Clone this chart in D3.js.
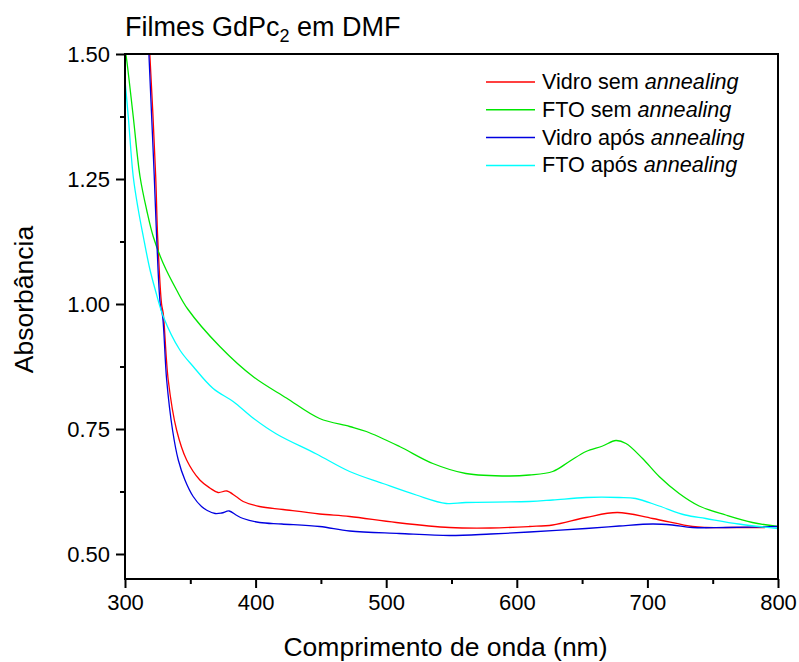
<!DOCTYPE html>
<html>
<head>
<meta charset="utf-8">
<script src="https://cdn.jsdelivr.net/npm/d3@7"></script>
<style>
  html, body { margin: 0; padding: 0; background: #fff; }
  svg { display: block; font-family: "Liberation Sans", Arial, sans-serif; }
</style>
</head>
<body>
<svg id="chart" width="799" height="662"></svg>
<script>
// Absorbance spectra of GdPc2 films deposited from DMF
const vidroSemWl  = [316, 319, 323.5, 325, 328, 329.3, 333.1, 339.5, 347.2, 357.3, 365, 371.3, 378, 385, 390.5, 403, 421, 449, 472, 507.7, 548.5, 580, 609.6, 627.5, 653, 677, 704, 734.5, 744.7, 765, 790];
const vidroSemAbs = [1.62, 1.5, 1.255, 1.135, 1.0, 0.981, 0.848, 0.748, 0.688, 0.648, 0.632, 0.623, 0.626, 0.615, 0.605, 0.595, 0.589, 0.58, 0.575, 0.563, 0.553, 0.552, 0.555, 0.558, 0.573, 0.583, 0.571, 0.555, 0.553, 0.553, 0.553];

const ftoSemWl  = [300, 301.3, 306.3, 311.5, 316.6, 321.6, 329.3, 339.5, 348, 372.6, 398, 423.6, 449, 472, 484.8, 510.2, 535.7, 561, 594.3, 609.6, 627.5, 640.2, 653, 665.7, 675.9, 683.6, 696.3, 709, 724.3, 739.6, 760, 780.4, 800];
const ftoSemAbs = [1.51, 1.488, 1.375, 1.255, 1.188, 1.135, 1.081, 1.028, 0.99, 0.915, 0.855, 0.812, 0.771, 0.755, 0.745, 0.715, 0.681, 0.661, 0.656, 0.658, 0.665, 0.685, 0.705, 0.716, 0.727, 0.721, 0.691, 0.655, 0.621, 0.596, 0.578, 0.563, 0.555];

const vidroAposWl  = [316, 318.3, 320.4, 322.4, 324.2, 327, 328.8, 331.9, 336.4, 340.8, 345.9, 352.2, 358.6, 363, 369, 374, 379.8, 385, 390.5, 403, 420, 449, 472, 510, 548.5, 580, 609.6, 653, 678.4, 704, 719, 734.5, 760, 800];
const vidroAposAbs = [1.65, 1.5, 1.375, 1.255, 1.135, 1.0, 0.975, 0.848, 0.748, 0.688, 0.648, 0.615, 0.595, 0.587, 0.581, 0.582, 0.586, 0.578, 0.571, 0.563, 0.56, 0.555, 0.546, 0.541, 0.537, 0.54, 0.544, 0.551, 0.556, 0.56, 0.558, 0.553, 0.553, 0.555];

const ftoAposWl  = [300, 302.5, 306.3, 310.2, 314, 319, 323, 329.3, 342, 352.2, 367.5, 382.8, 398, 416, 446.6, 472, 497.5, 523, 546, 561, 609.6, 627.5, 653, 678.4, 691, 709, 729, 744.7, 770, 800];
const ftoAposAbs = [1.448, 1.375, 1.255, 1.188, 1.135, 1.07, 1.03, 0.975, 0.908, 0.875, 0.831, 0.805, 0.772, 0.74, 0.70, 0.665, 0.641, 0.618, 0.601, 0.603, 0.605, 0.608, 0.613, 0.613, 0.611, 0.596, 0.578, 0.571, 0.56, 0.551];

const seriesNames  = ["Vidro sem", "FTO sem", "Vidro após", "FTO após"];
const seriesColors = ["#ff0000", "#00e600", "#0000e0", "#00ffff"];
const seriesWl  = [vidroSemWl, ftoSemWl, vidroAposWl, ftoAposWl];
const seriesAbs = [vidroSemAbs, ftoSemAbs, vidroAposAbs, ftoAposAbs];

const xTicks = [300, 400, 500, 600, 700, 800];
const yTicks = [0.50, 0.75, 1.00, 1.25, 1.50];

const svg = d3.select("#chart");
const m = { left: 125, right: 778, top: 54, bottom: 579 };

const x = d3.scaleLinear().domain([300, 800]).range([m.left, m.right]);
const y = d3.scaleLinear().domain([0.45, 1.5]).range([m.bottom, m.top]);

svg.append("defs").append("clipPath").attr("id", "plotClip")
  .append("rect").attr("x", m.left).attr("y", m.top)
  .attr("width", m.right - m.left).attr("height", m.bottom - m.top);

// spectra
const line = d3.line().x(d => x(d[0])).y(d => y(d[1])).curve(d3.curveCatmullRom.alpha(0.5));
const plot = svg.append("g").attr("clip-path", "url(#plotClip)");
seriesWl.forEach((wl, i) => {
  const pts = wl.map((w, j) => [w, seriesAbs[i][j]]);
  plot.append("path").datum(pts)
    .attr("d", line)
    .attr("fill", "none")
    .attr("stroke", seriesColors[i])
    .attr("stroke-width", 1.3);
});

// axes
const tickFont = "22px";
const xAxis = d3.axisBottom(x).tickValues(xTicks).tickSize(9).tickPadding(6).tickFormat(d3.format("d"));
const xMinor = d3.axisBottom(x).tickValues(d3.range(350, 800, 100)).tickSize(5).tickFormat("");
const yAxis = d3.axisLeft(y).tickValues(yTicks).tickSize(9).tickPadding(6).tickFormat(d3.format(".2f"));
const yMinor = d3.axisLeft(y).tickValues([0.625, 0.875, 1.125, 1.375]).tickSize(5).tickFormat("");

function styleAxis(g) {
  g.select(".domain").remove();
  g.selectAll("line").attr("stroke", "#000").attr("stroke-width", 2);
  g.selectAll("text").attr("fill", "#000").style("font-size", tickFont)
    .style("font-family", "'Liberation Sans', Arial, sans-serif");
}

svg.append("g").attr("transform", `translate(0,${m.bottom})`).call(xAxis).call(styleAxis);
svg.append("g").attr("transform", `translate(0,${m.bottom})`).call(xMinor).call(styleAxis);
svg.append("g").attr("transform", `translate(${m.left},0)`).call(yAxis).call(styleAxis);
svg.append("g").attr("transform", `translate(${m.left},0)`).call(yMinor).call(styleAxis);

// frame
svg.append("rect")
  .attr("x", m.left).attr("y", m.top)
  .attr("width", m.right - m.left).attr("height", m.bottom - m.top)
  .attr("fill", "none").attr("stroke", "#000").attr("stroke-width", 2);

// axis titles
svg.append("text")
  .attr("x", (m.left + m.right) / 2 - 6).attr("y", 656)
  .attr("text-anchor", "middle").style("font-size", "26.5px")
  .text("Comprimento de onda (nm)");

svg.append("text")
  .attr("transform", `translate(33,${(m.top + m.bottom) / 2 - 17}) rotate(-90)`)
  .attr("text-anchor", "middle").style("font-size", "26.5px")
  .text("Absorbância");

// title with subscript
const title = svg.append("text").attr("x", m.left).attr("y", 36).style("font-size", "27px");
title.append("tspan").text("Filmes GdPc");
title.append("tspan").attr("dy", 6).style("font-size", "18px").text("2");
title.append("tspan").attr("dy", -6).text(" em DMF");

// legend
const legend = svg.append("g");
seriesNames.forEach((name, i) => {
  const ly = 82 + i * 27.8;
  legend.append("line")
    .attr("x1", 486).attr("x2", 535).attr("y1", ly).attr("y2", ly)
    .attr("stroke", seriesColors[i]).attr("stroke-width", 1.5);
  const t = legend.append("text").attr("x", 542).attr("y", ly + 7).style("font-size", "21.6px");
  t.append("tspan").text(name + " ");
  t.append("tspan").style("font-style", "italic").text("annealing");
});
</script>
</body>
</html>
